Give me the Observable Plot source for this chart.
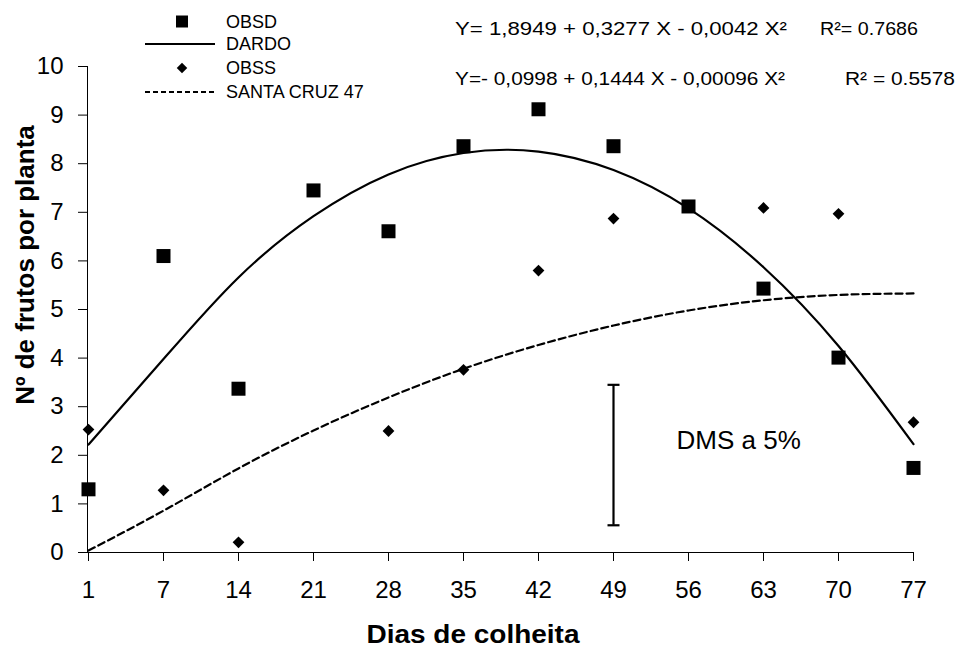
<!DOCTYPE html>
<html><head><meta charset="utf-8">
<script src="https://cdn.jsdelivr.net/npm/d3@7"></script>
<script src="https://cdn.jsdelivr.net/npm/@observablehq/plot@0.6"></script>
<style>
html,body{margin:0;padding:0;background:#fff;}
#chart{position:relative;width:972px;height:648px;overflow:hidden;}
</style></head><body><div id="chart"></div>
<script>
// ---- data ----
const days = [1, 7, 14, 21, 28, 35, 42, 49, 56, 63, 70, 77];
const obsd = [1.30, 6.10, 3.37, 7.45, 6.61, 8.36, 9.12, 8.36, 7.12, 5.43, 4.01, 1.74];
const obss = [2.53, 1.28, 0.21, null, 2.50, 3.76, 5.80, 6.87, null, 7.09, 6.97, 2.68];
const dardoFit = [2.22, 3.98, 5.66, 6.92, 7.78, 8.22, 8.25, 7.87, 7.08, 5.87, 4.25, 2.23];
const santaFit = [0.04, 0.86, 1.73, 2.51, 3.19, 3.78, 4.27, 4.67, 4.98, 5.19, 5.30, 5.33];
const yTicks = [0, 1, 2, 3, 4, 5, 6, 7, 8, 9, 10];
const dmsDay = [49];
const dmsLow = [0.56];
const dmsHigh = [3.45];
const dmsLabel = ["DMS a 5%"];
const legendLabels = ["OBSD", "DARDO", "OBSS", "SANTA CRUZ 47"];
const equations = ["Y= 1,8949 + 0,3277 X - 0,0042 X²", "Y=- 0,0998 + 0,1444 X - 0,00096 X²"];
const r2Labels = ["R²= 0.7686", "R² = 0.5578"];
const xTitle = "Dias de colheita";
const yTitle = "Nº de frutos por planta";

// ---- tables ----
const rows = days.map((d, i) => ({day: d, obsd: obsd[i], obss: obss[i], dardo: dardoFit[i], santa: santaFit[i]}));
const dms = dmsDay.map((d, i) => ({day: d, lo: dmsLow[i], hi: dmsHigh[i], mid: (dmsLow[i] + dmsHigh[i]) / 2 + 0.3, label: dmsLabel[i]}));
const dmsCaps = dms.flatMap(r => [{day: r.day, v: r.lo}, {day: r.day, v: r.hi}]);

// horizontal cap symbol for the DMS bar
const capSymbol = {
  draw(context, size) {
    const w = Math.sqrt(size / Math.PI);
    context.moveTo(-w, 0);
    context.lineTo(w, 0);
  }
};

const FONT = "'Liberation Sans', Arial, Helvetica, sans-serif";

const plot = Plot.plot({
  width: 972, height: 648,
  marginLeft: 87, marginRight: 59, marginTop: 66, marginBottom: 96,
  style: {fontFamily: FONT, fontSize: "24px", background: "white", color: "black", overflow: "visible"},
  x: {type: "point", domain: days, padding: 0, tickSize: 9, tickPadding: 19, line: true, label: null},
  y: {domain: [0, 10], ticks: yTicks, tickSize: 9, tickPadding: 15, line: true, label: null},
  marks: [
    Plot.line(rows, {x: "day", y: "dardo", curve: "natural", stroke: "black", strokeWidth: 2.2}),
    Plot.line(rows, {x: "day", y: "santa", curve: "natural", stroke: "black", strokeWidth: 2.2, strokeDasharray: "7,4"}),
    Plot.ruleX(dms, {x: "day", y1: "lo", y2: "hi", stroke: "black", strokeWidth: 2.2}),
    Plot.dot(dmsCaps, {x: "day", y: "v", symbol: capSymbol, r: 6, fill: "none", stroke: "black", strokeWidth: 2.2}),
    Plot.text(dms, {x: "day", y: "mid", text: "label", textAnchor: "start", dx: 63, fontSize: 26}),
    Plot.dot(rows, {x: "day", y: "obss", symbol: "diamond2", r: 5.3, fill: "black", stroke: "none"}),
    Plot.dot(rows, {x: "day", y: "obsd", symbol: "square", r: 7.9, fill: "black", stroke: "none"})
  ]
});

document.getElementById("chart").appendChild(plot);

// ---- legend, equations, axis titles ----
const svg = d3.select(plot);
const g = svg.append("g").attr("font-family", FONT).attr("fill", "black").attr("text-anchor", "start");
const legY = [21.5, 44, 68, 92];
legendLabels.forEach((lab, i) => {
  g.append("text").attr("x", 226).attr("y", legY[i]).attr("dy", "0.35em").attr("font-size", 18).text(lab);
});
g.append("path").attr("d", d3.symbol(d3.symbolSquare, 144)()).attr("transform", `translate(182,${legY[0]})`);
g.append("line").attr("x1", 145).attr("x2", 215).attr("y1", legY[1]).attr("y2", legY[1]).attr("stroke", "black").attr("stroke-width", 2);
g.append("path").attr("d", d3.symbol(d3.symbolDiamond2, 70)()).attr("transform", `translate(182,${legY[2]})`);
g.append("line").attr("x1", 145).attr("x2", 215).attr("y1", legY[3]).attr("y2", legY[3]).attr("stroke", "black").attr("stroke-width", 2).attr("stroke-dasharray", "5,3");

const eqY = [28, 78];
const eqW = [332, 330];
const r2X = [820, 845];
const r2W = [98, 110];
equations.forEach((e, i) => {
  g.append("text").attr("x", 455).attr("y", eqY[i]).attr("dy", "0.35em").attr("font-size", 19)
    .attr("textLength", eqW[i]).attr("lengthAdjust", "spacingAndGlyphs").text(e);
  g.append("text").attr("x", r2X[i]).attr("y", eqY[i]).attr("dy", "0.35em").attr("font-size", 19)
    .attr("textLength", r2W[i]).attr("lengthAdjust", "spacingAndGlyphs").text(r2Labels[i]);
});

g.append("text").attr("transform", "translate(25,265) rotate(-90)").attr("text-anchor", "middle").attr("dy", "0.35em")
  .attr("font-size", 26).attr("font-weight", "bold").text(yTitle);
g.append("text").attr("x", 473).attr("y", 643).attr("text-anchor", "middle")
  .attr("font-size", 25).attr("font-weight", "bold")
  .attr("textLength", 213).attr("lengthAdjust", "spacingAndGlyphs").text(xTitle);
</script>
</body></html>
